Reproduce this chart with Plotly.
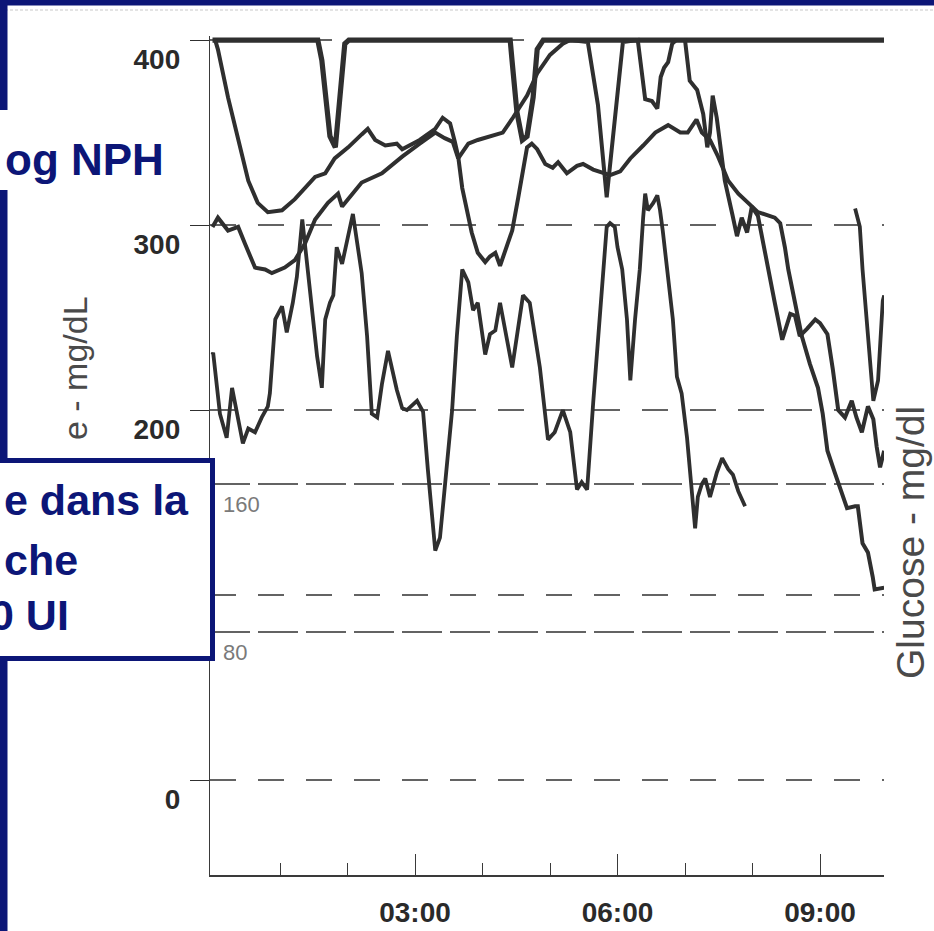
import plotly.graph_objects as go

# ---------------- data (time in hours after 00:00, glucose in mg/dL) ----------------
t1_hours = [0, 1.56, 1.62, 1.71, 1.74, 1.82, 1.89, 1.96, 2.02, 4.41, 4.44, 4.51, 4.59, 4.66, 4.75, 4.81, 4.90, 9.95]
t1_glucose = [400, 400, 389, 357, 348, 342, 369, 398, 400, 400, 388, 361, 346, 348, 369, 395, 400, 400]

t2_hours = [0.04, 0.08, 0.23, 0.38, 0.53, 0.67, 0.82, 1.03, 1.22, 1.52, 1.67, 1.81, 2.01, 2.21, 2.30, 2.41,
            2.56, 2.73, 2.81, 3.07, 3.30, 3.41, 3.52, 3.59, 3.64, 3.70, 3.77, 3.84, 3.93, 4.04, 4.11, 4.19,
            4.26, 4.33, 4.44, 4.53, 4.60, 4.66, 4.73, 4.81, 4.93, 5.04, 5.12, 5.25, 5.40, 5.49, 5.64, 5.79,
            5.89, 6.04, 6.19, 6.38, 6.56, 6.75, 6.93, 7.04, 7.17, 7.25, 7.37, 7.49, 7.64, 7.79, 7.93, 8.08,
            8.33, 8.41, 8.48, 8.53, 8.63, 8.73, 8.85, 8.97, 9.04, 9.11, 9.22, 9.30, 9.40, 9.52, 9.56, 9.63,
            9.71, 9.78, 9.81, 9.95]
t2_glucose = [400, 395, 369, 346, 324, 312, 307, 308, 314, 326, 328, 336, 342, 349, 352, 346,
              343, 344, 341, 346, 352, 358, 355, 345, 337, 320, 308, 296, 285, 280, 283, 285,
              278, 286, 297, 315, 330, 342, 344, 341, 333, 331, 334, 328, 332, 333, 330, 328,
              327, 329, 336, 343, 350, 354, 350, 350, 357, 350, 346, 337, 324, 317, 312, 307,
              304, 301, 288, 276, 258, 240, 225, 212, 198, 178, 166, 157, 147, 148, 148, 128,
              123, 110, 103, 104]

t3_hours = [0.0, 0.08, 0.23, 0.38, 0.48, 0.63, 0.78, 0.88, 1.07, 1.22, 1.37, 1.52, 1.71, 1.86, 1.92, 2.07,
            2.21, 2.51, 2.81, 3.07, 3.30, 3.44, 3.56, 3.64, 3.79, 3.93, 4.11, 4.30, 4.45, 4.56, 4.66, 4.81,
            5.00, 5.19, 5.30, 5.56, 5.71, 5.84, 5.96, 6.08, 6.30, 6.36, 6.41, 6.51, 6.59, 6.64, 6.69, 6.75,
            6.81, 6.87, 7.00, 7.07, 7.18, 7.27, 7.33, 7.37, 7.41, 7.47, 7.55, 7.59, 7.70, 7.77, 7.84, 7.92,
            7.99, 8.08, 8.16, 8.23, 8.33, 8.44, 8.56, 8.63, 8.70, 8.81, 8.93, 9.00, 9.11, 9.19, 9.27, 9.37,
            9.47, 9.54, 9.62, 9.71, 9.79, 9.84, 9.89, 9.95]
t3_glucose = [299, 304, 297, 299, 290, 277, 276, 274, 277, 281, 290, 303, 312, 317, 310, 317,
              323, 328, 337, 344, 350, 347, 345, 336, 344, 346, 348, 350, 358, 364, 370, 382,
              392, 398, 400, 399, 365, 315, 358, 399, 400, 384, 368, 367, 363, 380, 385, 388,
              398, 400, 400, 378, 373, 360, 342, 350, 370, 358, 337, 324, 306, 294, 304, 296,
              310, 305, 290, 276, 258, 238, 252, 251, 240, 244, 249, 247, 241, 222, 200, 196,
              205, 196, 188, 202, 195, 180, 169, 178]

t4_hours = [0.0, 0.01, 0.11, 0.21, 0.29, 0.36, 0.45, 0.53, 0.63, 0.73, 0.82, 0.85, 0.93, 1.03, 1.10, 1.19,
            1.25, 1.33, 1.40, 1.47, 1.55, 1.62, 1.67, 1.74, 1.79, 1.84, 1.92, 2.08, 2.21, 2.29, 2.36, 2.44,
            2.51, 2.60, 2.73, 2.81, 2.88, 3.03, 3.12, 3.19, 3.30, 3.37, 3.47, 3.55, 3.62, 3.70, 3.79, 3.86,
            3.93, 4.04, 4.11, 4.19, 4.26, 4.44, 4.60, 4.70, 4.85, 4.97, 5.07, 5.19, 5.30, 5.40, 5.47, 5.55,
            5.64, 5.74, 5.79, 5.84, 5.89, 5.96, 6.00, 6.07, 6.14, 6.19, 6.26, 6.33, 6.38, 6.41, 6.45, 6.53,
            6.59, 6.63, 6.67, 6.75, 6.82, 6.88, 6.95, 7.03, 7.10, 7.15, 7.19, 7.25, 7.30, 7.37, 7.47, 7.55,
            7.64, 7.71, 7.79, 7.89]
t4_glucose = [230, 231, 198, 185, 212, 198, 182, 190, 188, 196, 202, 209, 249, 256, 242, 258,
              272, 303, 280, 258, 229, 212, 249, 258, 262, 288, 279, 306, 274, 240, 198, 196,
              214, 232, 211, 201, 200, 205, 199, 168, 124, 131, 168, 200, 240, 276, 269, 254,
              258, 230, 241, 243, 258, 223, 262, 258, 223, 184, 188, 200, 188, 157, 161, 157,
              204, 249, 276, 299, 301, 299, 288, 276, 249, 216, 249, 276, 304, 317, 308, 312,
              316, 308, 297, 273, 249, 218, 209, 185, 158, 136, 153, 160, 163, 153, 166, 174,
              168, 165, 156, 148]

t5_hours = [9.52, 9.59, 9.63, 9.71, 9.76, 9.79, 9.86, 9.93, 9.95]
t5_glucose = [309, 299, 276, 240, 216, 205, 216, 259, 262]

series = [(t1_hours, t1_glucose, 5.2), (t2_hours, t2_glucose, 4.0), (t3_hours, t3_glucose, 4.0),
          (t4_hours, t4_glucose, 3.8), (t5_hours, t5_glucose, 3.8)]

y_tick_values = [0, 200, 300, 400]
y_tick_labels = ["0", "200", "300", "400"]
grid_short = [0, 100, 200, 300, 400]
grid_long = [80, 160]
inner_labels = [160, 80]
x_tick_values = [3, 6, 9]
x_tick_labels = ["03:00", "06:00", "09:00"]
x_minor_ticks = [1, 2, 4, 5, 7, 8]
right_title = "Glucose - mg/dl"
left_title_part = "e - mg/dL"
title_part = "og NPH"
box_lines = ["e dans la", "che", "0 UI"]

# ---------------- layout helpers ----------------
W, H = 934, 931
NAVY = "#0c1677"
INK = "#2f2f2f"
FONT = "Liberation Sans, Arial, sans-serif"


def px(x):
    return x / W


def py(y):
    return 1 - y / H


fig = go.Figure()
for xs, ys, w in series:
    fig.add_trace(go.Scatter(x=xs, y=ys, mode="lines", line=dict(color=INK, width=w),
                             hoverinfo="skip", showlegend=False))

shapes = []
# frame of the slide
shapes.append(dict(type="rect", xref="paper", yref="paper", x0=0, x1=1, y0=py(5.5), y1=1.0,
                   fillcolor=NAVY, line=dict(width=0), layer="above"))
shapes.append(dict(type="line", xref="paper", yref="paper", x0=0, x1=1, y0=py(10), y1=py(10),
                   line=dict(color="#c8c8c8", width=1, dash="3px,2px"), layer="above"))
shapes.append(dict(type="rect", xref="paper", yref="paper", x0=0, x1=px(7.5), y0=0, y1=1.0,
                   fillcolor=NAVY, line=dict(width=0), layer="above"))
# white area behind the cut title
shapes.append(dict(type="rect", xref="paper", yref="paper", x0=0, x1=px(178), y0=py(190), y1=py(110),
                   fillcolor="white", line=dict(width=0), layer="above"))
# bordered text box
shapes.append(dict(type="rect", xref="paper", yref="paper", x0=px(-10), x1=px(212.5), y0=py(658.5),
                   y1=py(460.5), fillcolor="white", line=dict(color=NAVY, width=5), layer="above"))
# dashed reference lines
for g in grid_short:
    shapes.append(dict(type="line", xref="paper", yref="y", x0=px(210), x1=px(884), y0=g, y1=g,
                       line=dict(color="#303030", width=1.4, dash="26px,22px"), layer="below"))
for g in grid_long:
    shapes.append(dict(type="line", xref="paper", yref="y", x0=px(210), x1=px(884), y0=g, y1=g,
                       line=dict(color="#303030", width=1.4, dash="40px,8px"), layer="below"))

annotations = []
for v in inner_labels:
    annotations.append(dict(xref="paper", yref="y", x=px(221), y=v, xanchor="left", yanchor="top",
                            yshift=-6, text=str(v), showarrow=False,
                            font=dict(family=FONT, size=22, color="#7a7a7a")))
annotations.append(dict(xref="paper", yref="paper", x=px(910), y=py(543), xanchor="center",
                        yanchor="middle", text=right_title, textangle=-90, showarrow=False,
                        font=dict(family=FONT, size=39, color="#4a4a4a")))
annotations.append(dict(xref="paper", yref="paper", x=px(75), y=py(368), xanchor="center",
                        yanchor="middle", text=left_title_part, textangle=-90, showarrow=False,
                        font=dict(family=FONT, size=34, color="#4a4a4a")))
annotations.append(dict(xref="paper", yref="paper", x=px(166), y=py(160), xanchor="right",
                        yanchor="middle", text="<b>%s</b>" % title_part, showarrow=False,
                        font=dict(family=FONT, size=44, color=NAVY)))
box_pos = [(2, 500), (2, 560), (-12, 615)]
for (bx, by), line in zip(box_pos, box_lines):
    annotations.append(dict(xref="paper", yref="paper", x=px(bx), y=py(by), xanchor="left",
                            yanchor="middle", text="<b>%s</b>" % line, showarrow=False,
                            font=dict(family=FONT, size=43, color=NAVY)))

fig.update_layout(
    width=W, height=H, margin=dict(l=0, r=0, t=0, b=0, pad=0, autoexpand=False),
    paper_bgcolor="white", plot_bgcolor="white",
    shapes=shapes, annotations=annotations,
    xaxis=dict(domain=[px(210), px(884)], range=[-0.037, 9.948], showgrid=False, zeroline=False,
               showline=True, linecolor="#3a3a3a", linewidth=1.5, automargin=False,
               tickmode="array", tickvals=x_tick_values, ticktext=x_tick_labels,
               ticks="inside", ticklen=21, tickwidth=1.4, tickcolor="#3a3a3a",
               ticklabelstandoff=12,
               tickfont=dict(family=FONT, size=28, color="#2a2a2a", weight="bold"),
               minor=dict(tickmode="array", tickvals=x_minor_ticks, ticks="inside", ticklen=12,
                          tickwidth=1.4, tickcolor="#3a3a3a", showgrid=False)),
    yaxis=dict(domain=[py(875), py(36)], range=[-51.35, 402.2], showgrid=False, zeroline=False,
               showline=True, linecolor="#3a3a3a", linewidth=1.3, automargin=False,
               tickmode="array", tickvals=y_tick_values, ticktext=y_tick_labels,
               ticks="outside", ticklen=19, tickwidth=1.4, tickcolor="#303030",
               ticklabelshift=19, ticklabelstandoff=4,
               tickfont=dict(family=FONT, size=28, color="#2a2a2a", weight="bold")),
)

fig.write_html("out.html")
